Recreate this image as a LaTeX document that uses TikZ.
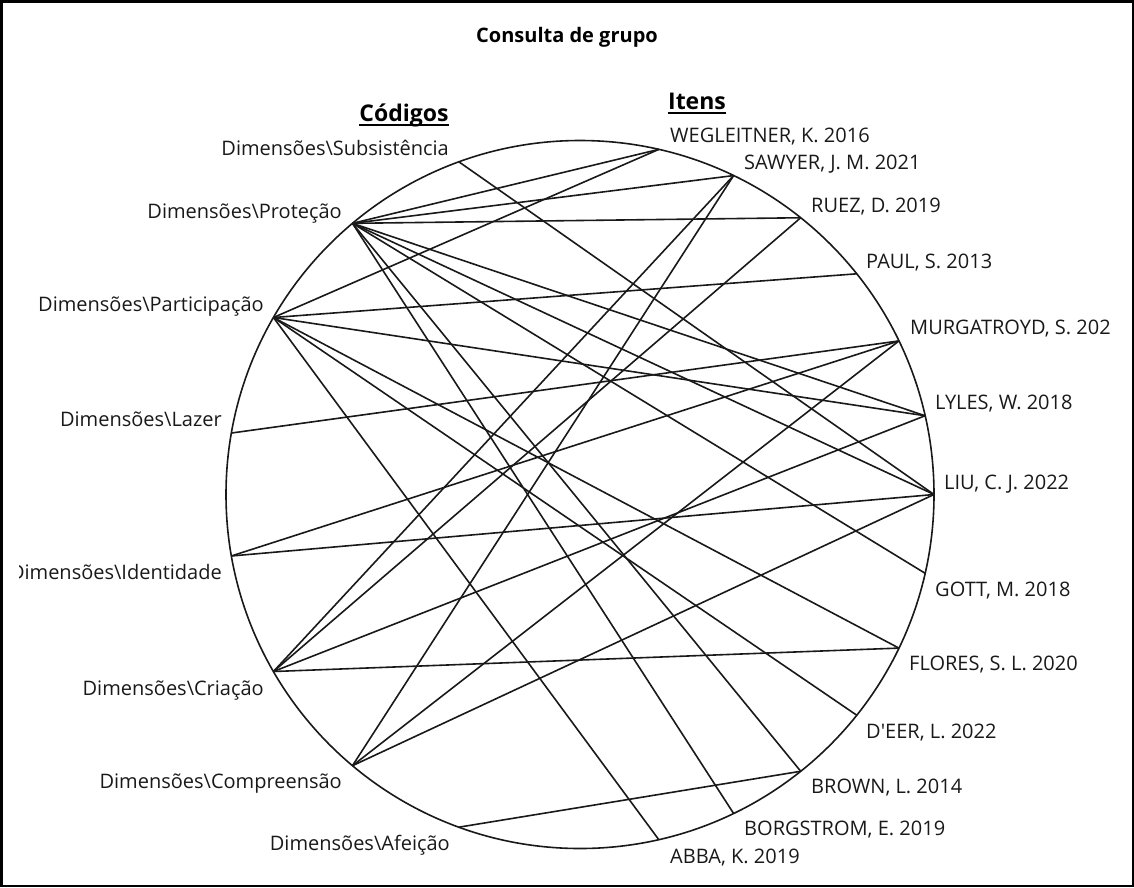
\documentclass[tikz,border=0pt]{standalone}
\usepackage{fontspec}
\setmainfont{Open Sans}
\begin{document}
\begin{tikzpicture}[x=1pt,y=-1pt,
  lbl/.style={inner sep=0pt, font=\fontsize{20}{23}\selectfont, text=black!90},
  code/.style={lbl, anchor=base east},
  item/.style={lbl, anchor=base west},
  hdr/.style={inner sep=0pt, font=\bfseries\fontsize{23}{26}\selectfont, anchor=base, text=black},
  link/.style={line width=1.6pt, draw=black!90},
  ring/.style={line width=1.6pt, draw=black!90}]
\useasboundingbox (0,0) rectangle (1134,887);
\draw[line width=2.5pt] (1.25,1.25) rectangle (1132.75,885.75);
% title and headers
\node[inner sep=0pt, font=\bfseries\fontsize{20}{24}\selectfont, anchor=base] (title) at (567,42) {Consulta de grupo};
\node[hdr] (hcod) at (404,121) {Códigos};
\node[hdr] (hit) at (697,109) {Itens};
\draw[line width=2pt] (hcod.base west) ++(0,3.5) coordinate (u1) -- (hcod.base east |- u1);
\draw[line width=2pt] (hit.base west) ++(0,3.5) coordinate (u2) -- (hit.base east |- u2);
% circle
\coordinate (C) at (580,494.5);
\draw[ring] (C) circle[radius=354];
% code points
\path (C) ++(-110:354) coordinate (sub);
\path (C) ++(-130:354) coordinate (pro);
\path (C) ++(-150:354) coordinate (par);
\path (C) ++(-170:354) coordinate (laz);
\path (C) ++(170:354) coordinate (ide);
\path (C) ++(150:354) coordinate (cri);
\path (C) ++(130:354) coordinate (com);
\path (C) ++(110:354) coordinate (afe);
% item points
\path (C) ++(-77.143:354) coordinate (weg);
\path (C) ++(-64.286:354) coordinate (saw);
\path (C) ++(-51.429:354) coordinate (rue);
\path (C) ++(-38.571:354) coordinate (pau);
\path (C) ++(-25.714:354) coordinate (mur);
\path (C) ++(-12.857:354) coordinate (lyl);
\path (C) ++(0:354) coordinate (liu);
\path (C) ++(12.857:354) coordinate (got);
\path (C) ++(25.714:354) coordinate (flo);
\path (C) ++(38.571:354) coordinate (dee);
\path (C) ++(51.429:354) coordinate (bro);
\path (C) ++(64.286:354) coordinate (bor);
\path (C) ++(77.143:354) coordinate (abb);
% connectors
\draw[link] (sub) -- (liu);
\draw[link] (pro) -- (weg);
\draw[link] (pro) -- (saw);
\draw[link] (pro) -- (rue);
\draw[link] (pro) -- (lyl);
\draw[link] (pro) -- (liu);
\draw[link] (pro) -- (got);
\draw[link] (pro) -- (bro);
\draw[link] (pro) -- (bor);
\draw[link] (par) -- (weg);
\draw[link] (par) -- (pau);
\draw[link] (par) -- (lyl);
\draw[link] (par) -- (flo);
\draw[link] (par) -- (dee);
\draw[link] (par) -- (abb);
\draw[link] (laz) -- (mur);
\draw[link] (ide) -- (liu);
\draw[link] (ide) -- (mur);
\draw[link] (cri) -- (saw);
\draw[link] (cri) -- (rue);
\draw[link] (cri) -- (lyl);
\draw[link] (cri) -- (flo);
\draw[link] (com) -- (saw);
\draw[link] (com) -- (mur);
\draw[link] (com) -- (liu);
\draw[link] (afe) -- (bro);
% code labels
\node[code] (lsub) at (449,155) {Dimensões\textbackslash Subsistência};
\node[code] (lpro) at (342,218) {Dimensões\textbackslash Proteção};
\node[code] (lpar) at (264,311) {Dimensões\textbackslash Participação};
\node[code] (llaz) at (222,426) {Dimensões\textbackslash Lazer};
\begin{scope}
\clip (19,0) rectangle (1134,887);
\node[code] (lide) at (222,579) {Dimensões\textbackslash Identidade};
\end{scope}
\node[code] (lcri) at (264,695) {Dimensões\textbackslash Criação};
\node[code] (lcom) at (342,788) {Dimensões\textbackslash Compreensão};
\node[code] (lafe) at (450,850) {Dimensões\textbackslash Afeição};
% item labels
\node[item] (lweg) at (670,142) {WEGLEITNER, K. 2016};
\node[item] (lsaw) at (744,169) {SAWYER, J. M. 2021};
\node[item] (lrue) at (811,212) {RUEZ, D. 2019};
\node[item] (lpau) at (866,268) {PAUL, S. 2013};
\node[item] (lmur) at (910,334) {MURGATROYD, S. 202};
\node[item] (llyl) at (935,409) {LYLES, W. 2018};
\node[item] (lliu) at (944,489) {LIU, C. J. 2022};
\node[item] (lgot) at (935,596) {GOTT, M. 2018};
\node[item] (lflo) at (909,670) {FLORES, S. L. 2020};
\node[item] (ldee) at (866,738) {D\textquotesingle EER, L. 2022};
\node[item] (lbro) at (811,793) {BROWN, L. 2014};
\node[item] (lbor) at (744,835) {BORGSTROM, E. 2019};
\node[item] (labb) at (670,863) {ABBA, K. 2019};
\end{tikzpicture}
\end{document}
